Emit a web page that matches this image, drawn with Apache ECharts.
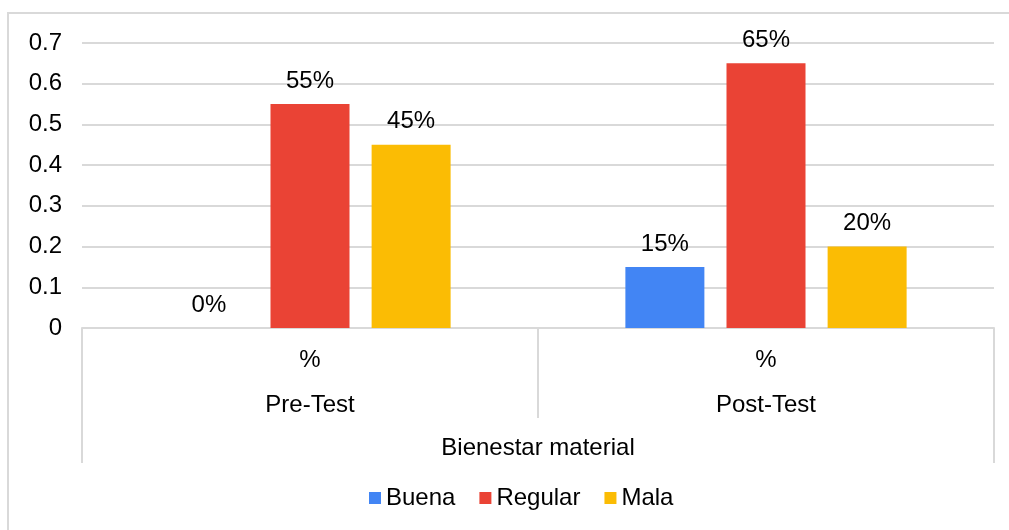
<!DOCTYPE html>
<html>
<head>
<meta charset="utf-8">
<script src="https://cdn.jsdelivr.net/npm/echarts@6/dist/echarts.min.js"></script>
<style>
html,body{margin:0;padding:0;background:#fff;}
#chart{width:1009px;height:530px;}
</style>
</head>
<body>
<div id="chart"></div>
<script>
var groups = ['Pre-Test', 'Post-Test'];
var subLabel = '%';
var outerLabel = ['Bienestar material'];
var seriesNames = ['Buena', 'Regular', 'Mala'];
var buena = [0, 0.15];
var regular = [0.55, 0.65];
var mala = [0.45, 0.20];
var colors = ['#4285F4', '#EA4335', '#FBBC04'];

var FONT = 'Liberation Sans, Arial, sans-serif';
var GRAY = '#d9d9d9';
var chart = echarts.init(document.getElementById('chart'));

function mk(name, data, color) {
  return {
    name: name,
    type: 'bar',
    data: data,
    xAxisIndex: 0,
    barWidth: 79,
    barGap: '28%',
    itemStyle: { color: color },
    label: {
      show: true,
      position: 'top',
      distance: 11,
      color: '#000',
      fontSize: 24,
      fontFamily: FONT,
      formatter: function (p) { return Math.round(p.value * 100) + '%'; }
    }
  };
}

chart.setOption({
  animation: false,
  backgroundColor: '#fff',
  grid: { left: 82, right: 15, top: 43, bottom: 202, containLabel: false },
  legend: {
    data: seriesNames,
    bottom: 15,
    left: 364,
    icon: 'rect',
    itemWidth: 12,
    itemHeight: 12,
    itemGap: 24,
    textStyle: { fontSize: 24, fontFamily: FONT, color: '#000' }
  },
  xAxis: [
    {
      type: 'category',
      data: groups,
      position: 'bottom',
      axisLine: { show: true, lineStyle: { color: GRAY, width: 2 } },
      axisTick: { show: true, length: 90, lineStyle: { color: GRAY, width: 2 } },
      axisLabel: {
        margin: 10,
        fontSize: 24,
        fontFamily: FONT,
        color: '#000',
        lineHeight: 45,
        formatter: function (v) { return subLabel + '\n' + v; }
      }
    },
    {
      type: 'category',
      data: outerLabel,
      position: 'bottom',
      axisLine: { show: false },
      axisTick: { show: true, length: 135, lineStyle: { color: GRAY, width: 2 } },
      axisLabel: {
        margin: 108,
        fontSize: 24,
        fontFamily: FONT,
        color: '#000'
      }
    }
  ],
  yAxis: {
    type: 'value',
    min: 0,
    max: 0.7,
    interval: 0.1,
    axisLine: { show: false },
    axisTick: { show: false },
    splitLine: { lineStyle: { color: GRAY, width: 2 } },
    axisLabel: {
      margin: 20,
      fontSize: 24,
      fontFamily: FONT,
      color: '#000',
      formatter: function (v) { return String(Math.round(v * 10) / 10); }
    }
  },
  graphic: [
    {
      type: 'polyline',
      silent: true,
      shape: { points: [[8, 540], [8, 13], [1012, 13]] },
      style: { stroke: GRAY, lineWidth: 2, fill: null }
    }
  ],
  series: [
    mk(seriesNames[0], buena, colors[0]),
    mk(seriesNames[1], regular, colors[1]),
    mk(seriesNames[2], mala, colors[2])
  ]
});
</script>
</body>
</html>
